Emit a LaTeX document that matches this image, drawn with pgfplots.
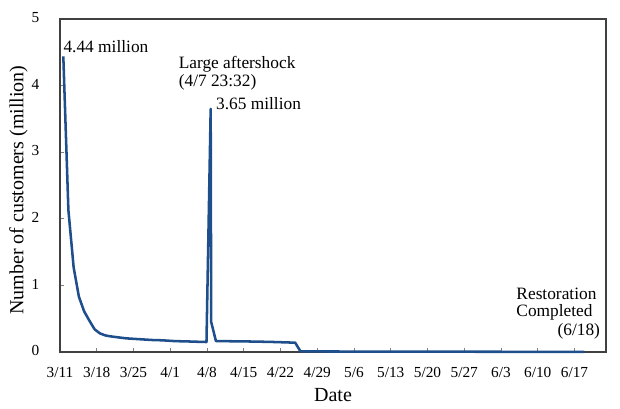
\documentclass[border=0pt]{standalone}
\usepackage{fontspec}
\setmainfont{Liberation Serif}
\usepackage{pgfplots}
\pgfplotsset{compat=1.18}
\definecolor{linecol}{RGB}{31,78,140}
\definecolor{axcol}{RGB}{64,64,64}
\begin{document}
\begin{tikzpicture}
\begin{axis}[
  scale only axis,
  width=409.5pt, height=249.75pt,
  xmin=0, xmax=104, ymin=0, ymax=5,
  clip=false,
  axis line style={axcol, line width=1pt},
  tick style={gray, line width=0.6pt},
  major tick length=3.3pt,
  tick align=inside,
  xtick pos=left, ytick pos=left,
  xtick={0,7,14,21,28,35,42,49,56,63,70,77,84,91,98},
  xticklabels={3/11,3/18,3/25,4/1,4/8,4/15,4/22,4/29,5/6,5/13,5/20,5/27,6/3,6/10,6/17},
  ytick={0,1,2,3,4,5},
  /pgf/number format/assume math mode=true,
  tick label style={font=\fontsize{11.5}{13}\selectfont, text=black},
  xticklabel style={inner sep=0pt, anchor=base, yshift=-18.75pt},
  yticklabel style={inner sep=0pt, anchor=east, xshift=-15.4pt, yshift=1pt},
  xlabel={Date},
  ylabel={Number of customers (million)},
  label style={font=\fontsize{15}{17}\selectfont},
  xlabel style={at={(axis description cs:0.5,0)}, anchor=center, yshift=-32.25pt},
  ylabel style={at={(axis description cs:-0.076,0.486)}, anchor=center, rotate=0},
]
\addplot[linecol, line width=1.9pt, line join=round] coordinates {
(0.63,4.44) (1.6,2.13) (2.6,1.27) (3.6,0.83) (4.6,0.61) (5.6,0.47) (6.6,0.34)
(7.6,0.28) (8.6,0.25) (9.6,0.235) (10.6,0.225) (11.6,0.215) (12.6,0.205)
(13.6,0.20) (14.6,0.195) (15.6,0.19) (16.6,0.185) (17.6,0.18) (18.6,0.178)
(19.6,0.175) (20.6,0.17) (21.6,0.165) (22.6,0.162) (23.6,0.16) (24.6,0.158)
(25.6,0.155) (26.6,0.153) (27.9,0.15) (28.7,3.65) (28.8,0.45) (29.7,0.165)
(32,0.162) (36,0.158) (40,0.152) (44.8,0.14) (45.8,0.01) (50,0.008)
(60,0.006) (70,0.005) (80,0.004) (90,0.003) (99.9,0.002)
};
\node[font=\fontsize{13}{15}\selectfont, inner sep=0pt, anchor=base west] at (axis cs:0.63,4.494) {4.44 million};
\node[font=\fontsize{13}{15}\selectfont, inner sep=0pt, anchor=base west] at (axis cs:22.58,4.26) {Large aftershock};
\node[font=\fontsize{13}{15}\selectfont, inner sep=0pt, anchor=base west] at (axis cs:22.58,3.994) {(4/7 23:32)};
\node[font=\fontsize{13}{15}\selectfont, inner sep=0pt, anchor=base west] at (axis cs:29.7,3.634) {3.65 million};
\node[font=\fontsize{13}{15}\selectfont, inner sep=0pt, anchor=base west] at (axis cs:86.9,0.791) {Restoration};
\node[font=\fontsize{13}{15}\selectfont, inner sep=0pt, anchor=base west] at (axis cs:86.9,0.53) {Completed};
\node[font=\fontsize{13}{15}\selectfont, inner sep=0pt, anchor=base east] at (axis cs:102.9,0.255) {(6/18)};
\end{axis}
\pgfresetboundingbox
\path[use as bounding box] ([xshift=-45pt,yshift=-42pt]current axis.south west) rectangle ([xshift=10.5pt,yshift=14.25pt]current axis.north east);
\end{tikzpicture}
\end{document}
